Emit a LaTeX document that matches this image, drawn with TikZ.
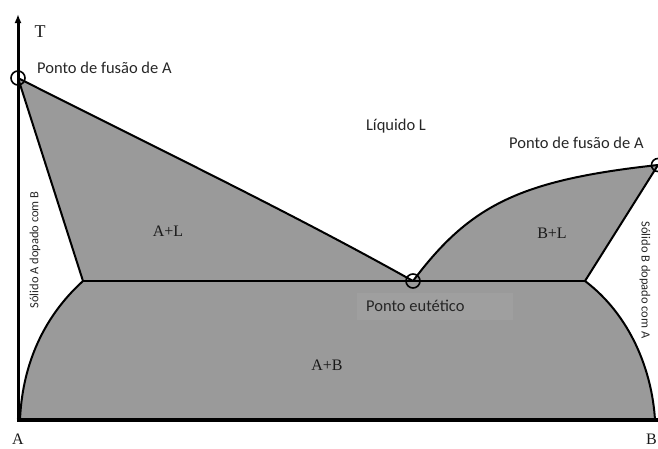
\documentclass[tikz,border=0pt]{standalone}
\usepackage{fontspec}
\setmainfont{Liberation Serif}
\newfontfamily\carl{Carlito}
\usetikzlibrary{arrows.meta}
\definecolor{phase}{HTML}{9A9A9A}
\definecolor{boxgray}{HTML}{9F9F9F}
\tikzset{
  curve/.style={line width=2pt, line cap=round, line join=round},
  axis/.style={line width=3pt},
  ringmark/.style={circle, draw, line width=1.6pt, minimum size=14pt, inner sep=0pt},
  sanslbl/.style={font=\carl\fontsize{16.5}{18}\selectfont, text=black!85, inner sep=0pt},
  sidelbl/.style={font=\carl\fontsize{12.5}{14}\selectfont, text=black!85, inner sep=0pt},
  phaselbl/.style={font=\fontsize{16}{18}\selectfont, text=black!90, inner sep=0pt},
}
\begin{document}
\begin{tikzpicture}[x=1pt,y=-1pt]
\useasboundingbox (0,0) rectangle (658,448);
% fills
\fill[phase] (18,78) .. controls (150,145) and (290,212) .. (413,281) -- (83,281) -- cycle;
\fill[phase] (413,281) .. controls (470,205) and (520,180) .. (658,165) -- (585,281) -- cycle;
\fill[phase] (20,420) .. controls (22,370) and (40,320) .. (83,281) -- (585,281) .. controls (630,315) and (652,370) .. (655,420) -- cycle;
\fill[boxgray] (357,293) rectangle (513,320);
% named points
\coordinate (mA) at (18,78);
\coordinate (mB) at (658,165);
\coordinate (eu) at (413,281);
\coordinate (sA) at (83,281);
\coordinate (sB) at (585,281);
\coordinate (bA) at (20,420);
\coordinate (bB) at (655,420);
\coordinate (o) at (18,420);
\coordinate (top) at (18,14);
\coordinate (rt) at (660,420);
% curves
\draw[curve] (mA) .. controls (150,145) and (290,212) .. (eu);
\draw[curve] (mA) -- (sA);
\draw[curve] (sA) .. controls (40,320) and (22,370) .. (bA);
\draw[curve] (eu) .. controls (470,205) and (520,180) .. (mB);
\draw[curve] (mB) -- (sB);
\draw[curve] (sB) .. controls (630,315) and (652,370) .. (bB);
\draw[curve] (sA) -- (sB);
% axes
\draw[axis, -{Latex[length=9pt,width=7pt]}] (o) -- (top);
\draw[line width=3.5pt] (16.5,420) -- (rt);
% circles
\node[ringmark] (cA) at (mA) {};
\node[ringmark, minimum size=13pt] (cB) at (mB) {};
\node[ringmark] (cE) at (eu) {};
% labels
\node[phaselbl, font=\fontsize{18}{20}\selectfont] (T) at (40,32) {T};
\node[sanslbl, anchor=west] (lA) at (37,68) {Ponto de fusão de A};
\node[sanslbl, anchor=west] (lB) at (509,143) {Ponto de fusão de A};
\node[sanslbl] (liq) at (396,126) {Líquido L};
\node[sanslbl, anchor=west] (leu) at (366,306) {Ponto eutético};
\node[phaselbl] (AL) at (168,231) {A+L};
\node[phaselbl] (BL) at (552,233) {B+L};
\node[phaselbl] (AB) at (327,365) {A+B};
\node[sidelbl, rotate=90] (sdA) at (35,250) {Sólido A dopado com B};
\node[sidelbl, rotate=-90] (sdB) at (645,280) {Sólido B dopado com A};
\node[phaselbl, anchor=north] (xA) at (18,434) {A};
\node[phaselbl, anchor=north east] (xB) at (657,434) {B};
\end{tikzpicture}
\end{document}
